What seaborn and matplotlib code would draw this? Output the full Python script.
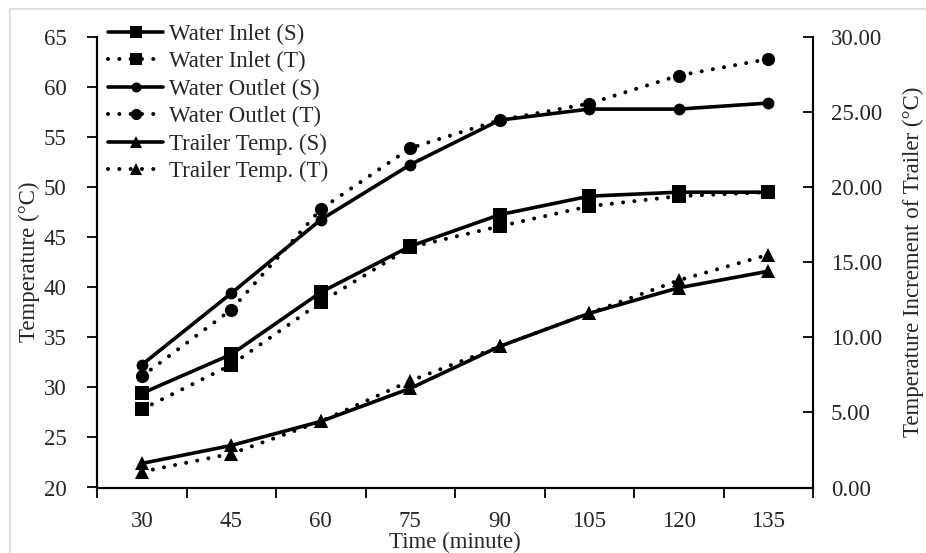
import matplotlib
matplotlib.use("Agg")
import matplotlib.pyplot as plt
import seaborn as sns
import numpy as np
from matplotlib.patches import Rectangle
from matplotlib.ticker import FormatStrFormatter

sns.set_theme(style="white")
plt.rcParams['font.family'] = ['Liberation Serif', 'DejaVu Serif']

time = [30, 45, 60, 75, 90, 105, 120, 135]
inlet_S = [29.4, 33.3, 39.5, 44.1, 47.25, 49.1, 49.5, 49.5]
inlet_T = [27.8, 32.25, 38.5, 44.0, 46.1, 48.1, 49.1, 49.5]
outlet_S = [32.25, 39.4, 46.75, 52.25, 56.7, 57.8, 57.8, 58.4]
outlet_T = [31.1, 37.75, 47.8, 53.9, 56.7, 58.35, 61.15, 62.8]
trailer_S = [1.6, 2.8, 4.4, 6.6, 9.4, 11.6, 13.3, 14.4]
trailer_T = [1.05, 2.25, 4.4, 7.1, 9.4, 11.6, 13.8, 15.5]

FS = 16.5
fig = plt.figure(figsize=(9.26, 5.53), dpi=100)
ax = fig.add_axes([97/926, 1-487.5/553, (813-97)/926, (487.5-37)/553])
ax2 = ax.twinx()

solid = dict(color='black', linewidth=2.6, linestyle='-')
dotted = dict(color='black', linewidth=2.9, linestyle=(0, (0.01, 2.8)), dash_capstyle='round')

def draw(a, y, marker, ms, style, label):
    sns.lineplot(x=time, y=y, ax=a, marker=marker, markersize=ms,
                 markeredgewidth=0, markerfacecolor='black', label=label, legend=False, **style)

draw(ax, inlet_S, 's', 9.5, solid, 'Water Inlet (S)')
draw(ax, inlet_T, 's', 9.5, dotted, 'Water Inlet (T)')
draw(ax, outlet_S, 'o', 8.5, solid, 'Water Outlet (S)')
draw(ax, outlet_T, 'o', 9.5, dotted, 'Water Outlet (T)')
draw(ax2, trailer_S, '^', 9.5, solid, 'Trailer Temp. (S)')
draw(ax2, trailer_T, '^', 9.5, dotted, 'Trailer Temp. (T)')

ax.set_xlim(22.5, 142.5)
ax.set_ylim(20, 65)
ax2.set_ylim(0, 30)
ax.set_yticks(np.arange(20, 66, 5))
ax2.set_yticks(np.arange(0, 31, 5))
ax2.yaxis.set_major_formatter(FormatStrFormatter('%.2f'))
ax.set_xticks(time)
ax.set_xticks(np.arange(22.5, 143, 15), minor=True)
ax.tick_params(axis='x', which='major', length=0, pad=17, labelsize=FS)
ax.tick_params(axis='x', which='minor', length=7, width=1.3, direction='out', color='black', bottom=True)
ax.tick_params(axis='y', length=7, width=1.3, direction='out', color='black', pad=15, labelsize=FS, left=True)
ax2.tick_params(axis='y', length=7, width=1.3, direction='in', color='black', pad=13, labelsize=FS, right=True)

for a in (ax, ax2):
    a.spines['top'].set_visible(False)
    for s in ['left', 'right', 'bottom']:
        a.spines[s].set_color('black')
        a.spines[s].set_linewidth(1.5)
ax.grid(False)
ax2.grid(False)

ax.set_xlabel('Time (minute)', fontsize=FS, labelpad=0)
ax.set_ylabel('Temperature (°C)', fontsize=FS)
ax.yaxis.set_label_coords((40 - 97) / 716, 0.5)
ax2.set_ylabel('Temperature Increment of Trailer (°C)', fontsize=FS, labelpad=15)

h1, l1 = ax.get_legend_handles_labels()
h2, l2 = ax2.get_legend_handles_labels()
leg = ax2.legend(h1 + h2, l1 + l2, loc='upper left', bbox_to_anchor=(108/926, 1-24/553),
                 bbox_transform=fig.transFigure, frameon=False, fontsize=FS,
                 handlelength=2.4, handletextpad=0.25, labelspacing=0.27,
                 borderpad=0, borderaxespad=0, markerscale=0.85)

fig.patches.append(Rectangle((10/926, -0.05), 1.1, 1-9/553+0.05, transform=fig.transFigure,
                             fill=False, edgecolor='#d9d9d9', linewidth=1.2, zorder=-1))

fig.savefig('out.png', dpi=100)
